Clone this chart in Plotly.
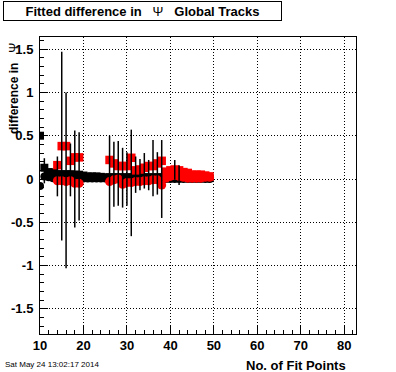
import plotly.graph_objects as go

# ---- data ----
black_x = list(range(10, 50))
black_sq = [0.50, 0.13, 0.08, 0.075, 0.055, 0.055, 0.055, 0.055, 0.05, 0.05,
            0.04, 0.03, 0.03, 0.03, 0.025, 0.02, 0.02, 0.02, 0.02, 0.02,
            0.02, 0.02, 0.02, 0.02, 0.02, 0.02, 0.02, 0.02, 0.02, 0.015,
            0.015, 0.015, 0.015, 0.015, 0.015, 0.015, 0.015, 0.015, 0.015, 0.01]
black_ci = [-0.08, 0.03, 0.02, 0.01, 0.005, 0.005, 0.005, 0.005, 0.005, 0.005,
            0.005, 0.005, 0.005, 0.005, 0.005, 0.005, 0.0, 0.0, 0.0, 0.0,
            0.0, 0.0, 0.0, 0.0, 0.0, 0.0, 0.0, 0.0, 0.0, 0.0,
            0.0, 0.0, 0.0, 0.0, 0.0, 0.0, 0.0, 0.0, 0.0, 0.0]

red_x = [14, 15, 16, 17, 18, 19] + list(range(26, 50))
red_sq = [0.16, 0.38, 0.38, 0.21, 0.25, 0.25,
          0.22, 0.18, 0.15, 0.15, 0.15, 0.245, 0.10, 0.11, 0.13, 0.15, 0.15, 0.18,
          0.21, 0.085, 0.10, 0.11, 0.10, 0.08, 0.07, 0.05, 0.05, 0.05, 0.04, 0.03]
red_ci = [-0.02, -0.02, -0.03, -0.02, -0.05, -0.05,
          -0.03, -0.01, 0.0, -0.06, -0.04, -0.04, -0.03, -0.03, -0.02, -0.02, -0.01, -0.01,
          -0.07, 0.01, 0.03, 0.04, 0.03, 0.02, 0.01, 0.01, 0.01, 0.01, 0.02, 0.02]

bar_x = [11, 14, 15, 16, 17, 18, 19, 26, 27, 28, 29, 30, 31, 32, 33, 34, 35, 36, 37, 38, 41, 42]
bar_lo = [-0.05, -0.20, -0.71, -1.03, -0.20, -0.56, -0.48, -0.50, -0.32, -0.31, -0.33,
          -0.31, -0.66, -0.16, -0.13, -0.11, -0.13, -0.20, -0.18, -0.45, -0.01, -0.07]
bar_hi = [0.24, 0.26, 1.47, 1.00, 0.41, 0.56, 0.54, 0.50, 0.43, 0.44, 0.36,
          0.31, 0.57, 0.26, 0.23, 0.30, 0.22, 0.45, 0.31, 0.45, 0.22, 0.16]

x_ticks = [10, 20, 30, 40, 50, 60, 70, 80]
y_ticks = [-1.5, -1, -0.5, 0, 0.5, 1, 1.5]
y_ticktext = ["-1.5", "-1", "-0.5", "0", "0.5", "1", "1.5"]

FONT = "Liberation Sans"

fig = go.Figure()
fig.add_trace(go.Scatter(x=black_x, y=black_sq, mode="markers",
                         marker=dict(symbol="square", size=8, color="black")))
fig.add_trace(go.Scatter(x=black_x, y=black_ci, mode="markers",
                         marker=dict(symbol="circle", size=8, color="black")))
fig.add_trace(go.Scatter(x=red_x, y=red_sq, mode="markers",
                         marker=dict(symbol="square", size=8.5, color="#ff0000")))
fig.add_trace(go.Scatter(x=red_x, y=red_ci, mode="markers",
                         marker=dict(symbol="circle", size=9, color="#ff0000")))
fig.add_trace(go.Scatter(
    x=bar_x, y=bar_lo, mode="markers", marker=dict(size=1, opacity=0),
    error_y=dict(type="data", symmetric=False,
                 array=[h - l for h, l in zip(bar_hi, bar_lo)],
                 arrayminus=[0] * len(bar_x),
                 color="black", thickness=1.5, width=0)))

axis_common = dict(
    showline=True, linecolor="black", linewidth=1, mirror=True,
    ticks="inside", ticklen=8, tickcolor="black", tickwidth=1,
    showgrid=True, gridcolor="black", gridwidth=1, griddash="1px,2px",
    zeroline=False,
    tickfont=dict(family=FONT, size=13, color="black", weight="bold"),
)

fig.update_xaxes(range=[10, 82.7], tickvals=x_ticks, ticklabelstandoff=-1,
                 minor=dict(ticks="inside", ticklen=4, dtick=2, tick0=10,
                            tickcolor="black", showgrid=False),
                 **axis_common)
fig.update_yaxes(range=[-1.79, 1.64], tickvals=y_ticks, ticktext=y_ticktext,
                 ticklabelstandoff=3,
                 minor=dict(ticks="inside", ticklen=4, dtick=0.1, tick0=0,
                            tickcolor="black", showgrid=False),
                 **axis_common)

NB = "\u00a0"
fig.add_annotation(
    xref="paper", yref="paper", x=(142.5 - 40) / 316, y=(334 - 11) / 297,
    xanchor="center", yanchor="middle",
    text="<b>Fitted difference in</b>" + NB * 3 + "Ψ" + NB * 3 + "<b>Global Tracks</b>",
    font=dict(family=FONT, size=13, color="black"),
    showarrow=False, bordercolor="black", borderwidth=1, borderpad=0,
    bgcolor="white", width=277, height=18, align="center")

fig.add_annotation(
    xref="paper", yref="paper", x=(14 - 40) / 316, y=(334 - 89) / 297,
    xanchor="center", yanchor="middle", textangle=-90,
    text="<b>difference in</b>" + NB * 3 + "Ψ",
    font=dict(family=FONT, size=12, color="black"), showarrow=False)

fig.add_annotation(
    xref="paper", yref="paper", x=(348 - 40) / 316, y=(334 - 365) / 297,
    xanchor="right", yanchor="middle",
    text="<b>No. of Fit Points</b>",
    font=dict(family=FONT, size=13, color="black"), showarrow=False)

fig.add_annotation(
    xref="paper", yref="paper", x=(3 - 40) / 316, y=(334 - 364) / 297,
    xanchor="left", yanchor="middle",
    text="Sat May 24 13:02:17 2014",
    font=dict(family=FONT, size=8, color="black"), showarrow=False)

fig.update_layout(
    width=396, height=372, autosize=False,
    margin=dict(l=40, r=40, t=37, b=38, pad=0),
    plot_bgcolor="white", paper_bgcolor="white", showlegend=False,
)

fig.write_html("out.html", config={"displayModeBar": False},
               post_script="document.body.style.margin='0px';document.body.style.overflow='hidden';")
